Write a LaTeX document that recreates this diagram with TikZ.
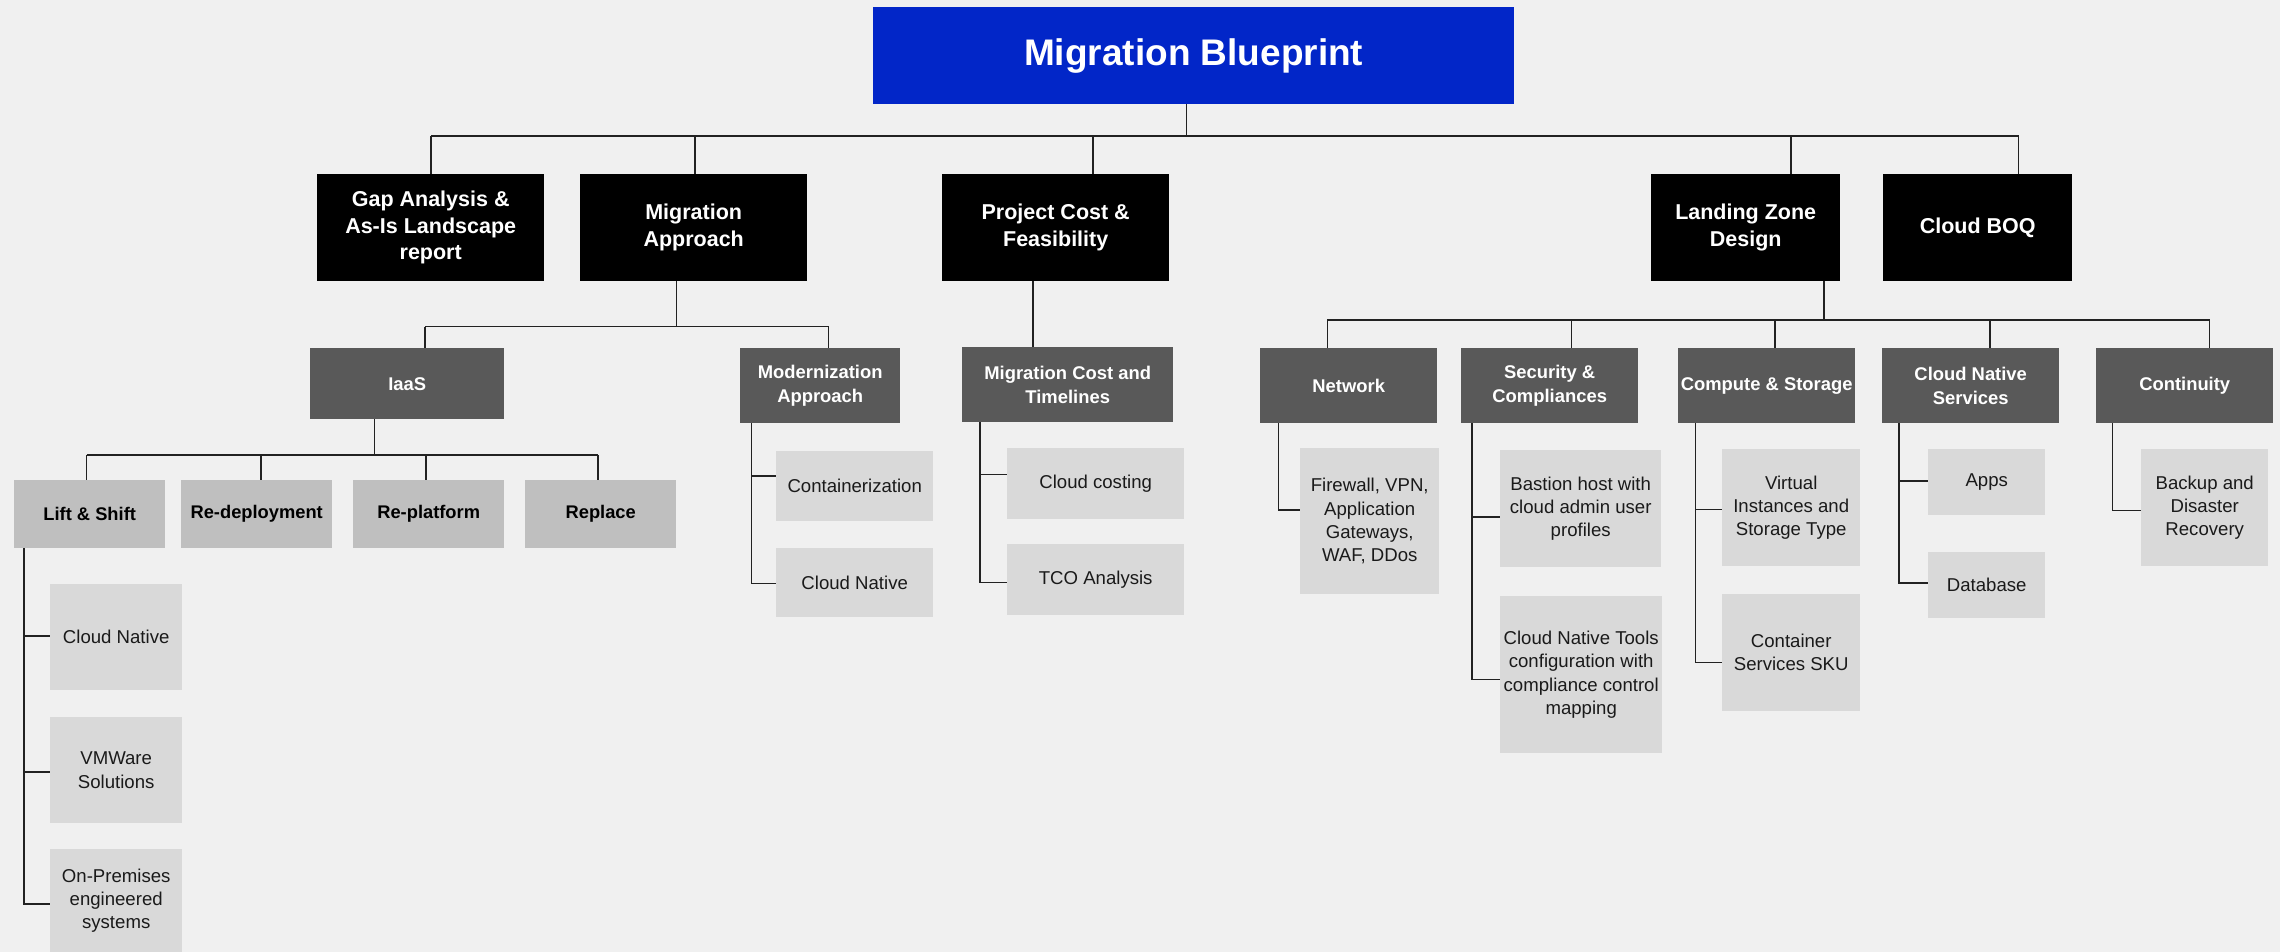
\documentclass[tikz,border=0pt]{standalone}
\usepackage{fontspec}
\setmainfont{Liberation Sans}
\definecolor{bg}{HTML}{F0F0F0}
\definecolor{tblue}{HTML}{0226C8}
\definecolor{dgrey}{HTML}{595959}
\definecolor{mgrey}{HTML}{BFBFBF}
\definecolor{lgrey}{HTML}{D9D9D9}
\definecolor{ink}{HTML}{1A1A1A}
\definecolor{wire}{HTML}{222222}
\begin{document}
\begin{tikzpicture}[x=1pt,y=-1pt,
  bx/.style={anchor=north west,inner sep=0pt,align=center},
  title/.style={bx,fill=tblue,text=white,font=\fontsize{37}{44}\selectfont\bfseries},
  lone/.style={bx,fill=black,text=white,font=\fontsize{21.5}{26.7}\selectfont\bfseries},
  ltwo/.style={bx,fill=dgrey,text=white,font=\fontsize{18.4}{23.5}\selectfont\bfseries},
  lthree/.style={bx,fill=mgrey,text=black,font=\fontsize{18.3}{23}\selectfont\bfseries},
  leaf/.style={bx,fill=lgrey,text=ink,font=\fontsize{18.6}{23.2}\selectfont},
  wire/.style={draw=wire,line width=1.5pt},
]
\fill[bg] (0,0) rectangle (2280,952);
\useasboundingbox (0,0) rectangle (2280,952);

% title
\node[title,minimum width=641pt,minimum height=97pt] (title) at (873,7) {Migration Blueprint};

% level 1
\node[lone,minimum width=227pt,minimum height=107pt] (gap) at (317,174) {Gap Analysis \&\\As-Is Landscape\\report};
\node[lone,minimum width=227pt,minimum height=107pt] (ma) at (580,174) {Migration\\Approach};
\node[lone,minimum width=227pt,minimum height=107pt] (pc) at (942,174) {Project Cost \&\\Feasibility};
\node[lone,minimum width=189pt,minimum height=107pt] (lz) at (1651,174) {Landing Zone\\Design};
\node[lone,minimum width=189pt,minimum height=107pt] (boq) at (1883,174) {Cloud BOQ};

% level 2
\node[ltwo,minimum width=194pt,minimum height=71pt] (iaas) at (310,348) {IaaS};
\node[ltwo,minimum width=160pt,minimum height=75pt] (mod) at (740,348) {Modernization\\Approach};
\node[ltwo,minimum width=211pt,minimum height=75pt] (mct) at (962,347) {Migration Cost and\\Timelines};
\node[ltwo,minimum width=177pt,minimum height=75pt] (net) at (1260,348) {Network};
\node[ltwo,minimum width=177pt,minimum height=75pt] (sec) at (1461,348) {Security \&\\Compliances};
\node[ltwo,minimum width=177pt,minimum height=75pt] (cmp) at (1678,348) {Compute \& Storage};
\node[ltwo,minimum width=177pt,minimum height=75pt] (cns) at (1882,348) {Cloud Native\\Services};
\node[ltwo,minimum width=177pt,minimum height=75pt] (con) at (2096,348) {Continuity};

% level 3
\node[lthree,minimum width=151pt,minimum height=68pt] (ls) at (14,480) {Lift \& Shift};
\node[lthree,minimum width=151pt,minimum height=68pt] (rd) at (181,480) {Re-deployment};
\node[lthree,minimum width=151pt,minimum height=68pt] (rp) at (353,480) {Re-platform};
\node[lthree,minimum width=151pt,minimum height=68pt] (rep) at (525,480) {Replace};

% leaves
\node[leaf,minimum width=132pt,minimum height=106pt] (cna) at (50,584) {Cloud Native};
\node[leaf,minimum width=132pt,minimum height=106pt] (vm) at (50,717) {VMWare\\Solutions};
\node[leaf,minimum width=132pt,minimum height=103pt] (op) at (50,849) {On-Premises\\engineered\\systems};
\node[leaf,minimum width=157pt,minimum height=70pt] (ctn) at (776,451) {Containerization};
\node[leaf,minimum width=157pt,minimum height=69pt] (cnm) at (776,548) {Cloud Native};
\node[leaf,minimum width=177pt,minimum height=71pt] (cc) at (1007,448) {Cloud costing};
\node[leaf,minimum width=177pt,minimum height=71pt] (tco) at (1007,544) {TCO Analysis};
\node[leaf,minimum width=139pt,minimum height=146pt] (fw) at (1300,448) {Firewall, VPN,\\Application\\Gateways,\\WAF, DDos};
\node[leaf,minimum width=161pt,minimum height=117pt] (bas) at (1500,450) {Bastion host with\\cloud admin user\\profiles};
\node[leaf,minimum width=162pt,minimum height=157pt] (cnt) at (1500,596) {Cloud Native Tools\\configuration with\\compliance control\\mapping};
\node[leaf,minimum width=138pt,minimum height=117pt] (vi) at (1722,449) {Virtual\\Instances and\\Storage Type};
\node[leaf,minimum width=138pt,minimum height=117pt] (cs) at (1722,594) {Container\\Services SKU};
\node[leaf,minimum width=117pt,minimum height=66pt] (apps) at (1928,449) {Apps};
\node[leaf,minimum width=117pt,minimum height=66pt] (db) at (1928,552) {Database};
\node[leaf,minimum width=127pt,minimum height=117pt] (bk) at (2141,449) {Backup and\\Disaster\\Recovery};

% ---- connectors: top bus
\coordinate (b0) at (1186.7,136);
\coordinate (t1) at (431,136);
\coordinate (t2) at (695,136);
\coordinate (t3) at (1093,136);
\coordinate (t4) at (1791,136);
\coordinate (t5) at (2018.5,136);
\draw[wire] (b0 |- title.south) -- (b0);
\draw[wire] (t1) -- (t5);
\draw[wire] (t1) -- (t1 |- gap.north);
\draw[wire] (t2) -- (t2 |- ma.north);
\draw[wire] (t3) -- (t3 |- pc.north);
\draw[wire] (t4) -- (t4 |- lz.north);
\draw[wire] (t5) -- (t5 |- boq.north);

% Migration Approach bus
\coordinate (m0) at (676.3,326.7);
\coordinate (m1) at (425,326.7);
\coordinate (m2) at (828.5,326.7);
\draw[wire] (m0 |- ma.south) -- (m0);
\draw[wire] (m1) -- (m2);
\draw[wire] (m1) -- (m1 |- iaas.north);
\draw[wire] (m2) -- (m2 |- mod.north);

% Project cost
\coordinate (p0) at (1033,300);
\draw[wire] (p0 |- pc.south) -- (p0 |- mct.north);

% Landing zone bus
\coordinate (l0) at (1824,320);
\coordinate (l1) at (1327.3,320);
\coordinate (l2) at (1571.7,320);
\coordinate (l3) at (1775,320);
\coordinate (l4) at (1990,320);
\coordinate (l5) at (2209.7,320);
\draw[wire] (l0 |- lz.south) -- (l0);
\draw[wire] (l1) -- (l5);
\draw[wire] (l1) -- (l1 |- net.north);
\draw[wire] (l2) -- (l2 |- sec.north);
\draw[wire] (l3) -- (l3 |- cmp.north);
\draw[wire] (l4) -- (l4 |- cns.north);
\draw[wire] (l5) -- (l5 |- con.north);

% IaaS bus
\coordinate (i0) at (374.5,455);
\coordinate (i1) at (86.7,455);
\coordinate (i2) at (261,455);
\coordinate (i3) at (426,455);
\coordinate (i4) at (598,455);
\draw[wire] (i0 |- iaas.south) -- (i0);
\draw[wire] (i1) -- (i4);
\draw[wire] (i1) -- (i1 |- ls.north);
\draw[wire] (i2) -- (i2 |- rd.north);
\draw[wire] (i3) -- (i3 |- rp.north);
\draw[wire] (i4) -- (i4 |- rep.north);

% side stems
\coordinate (sLS) at (24,0);
\draw[wire] (sLS |- ls.south) |- ([yshift=1pt]cna.west);
\draw[wire] (sLS |- ls.south) |- ([yshift=-2pt]vm.west);
\draw[wire] (sLS |- ls.south) |- ([yshift=-3.5pt]op.west);

\coordinate (sMO) at (751.5,0);
\draw[wire] (sMO |- mod.south) |- ([yshift=10pt]ctn.west);
\draw[wire] (sMO |- mod.south) |- ([yshift=-1pt]cnm.west);

\coordinate (sMC) at (980,0);
\draw[wire] (sMC |- mct.south) |- ([yshift=9pt]cc.west);
\draw[wire] (sMC |- mct.south) |- ([yshift=-3pt]tco.west);

\coordinate (sNE) at (1278.5,0);
\draw[wire] (sNE |- net.south) |- ([yshift=11pt]fw.west);

\coordinate (sSE) at (1472,0);
\draw[wire] (sSE |- sec.south) |- ([yshift=-8.5pt]bas.west);
\draw[wire] (sSE |- sec.south) |- ([yshift=-5pt]cnt.west);

\coordinate (sCM) at (1695.5,0);
\draw[wire] (sCM |- cmp.south) |- ([yshift=-2pt]vi.west);
\draw[wire] (sCM |- cmp.south) |- ([yshift=-10pt]cs.west);

\coordinate (sCN) at (1899,0);
\draw[wire] (sCN |- cns.south) |- ([yshift=1pt]apps.west);
\draw[wire] (sCN |- cns.south) |- ([yshift=2pt]db.west);

\coordinate (sCO) at (2112.7,0);
\draw[wire] (sCO |- con.south) |- ([yshift=-3pt]bk.west);
\end{tikzpicture}
\end{document}
